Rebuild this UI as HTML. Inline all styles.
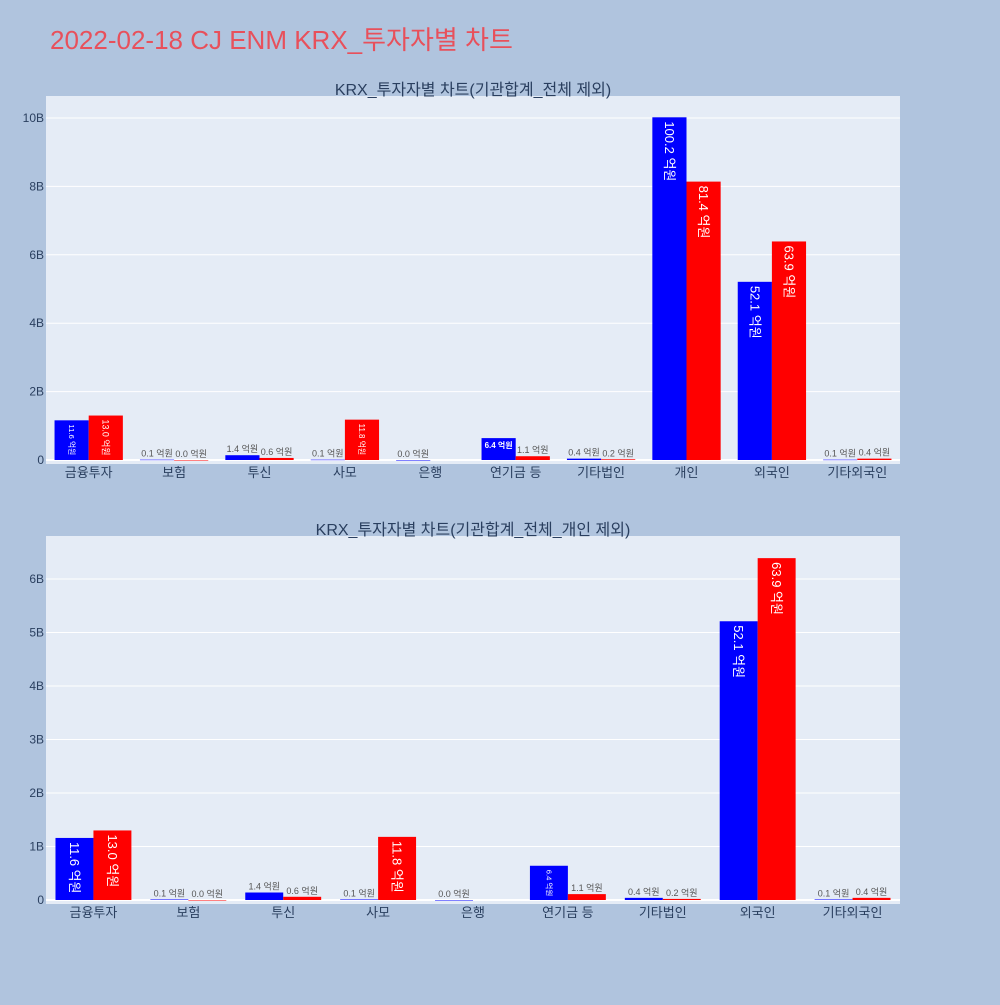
<!DOCTYPE html>
<html><head><meta charset="utf-8">
<style>
body{margin:0;width:1000px;height:1000px;background:#b0c4de;font-family:"Liberation Sans","Noto Sans CJK KR",sans-serif;overflow:hidden}
</style></head>
<body>
<svg id="svg" width="1000" height="1000" xmlns="http://www.w3.org/2000/svg">
<text x="50" y="49" font-size="26" fill="#e8505b" font-family="Liberation Sans, Noto Sans CJK KR, sans-serif">2022-02-18 CJ ENM KRX_투자자별 차트</text>
</svg>
<script>
const categories1=["금융투자","보험","투신","사모","은행","연기금 등","기타법인","개인","외국인","기타외국인"];
const blueVals1=[11.6,0.1,1.4,0.1,0.0,6.4,0.4,100.2,52.1,0.1];
const redVals1=[13.0,0.0,0.6,11.8,null,1.1,0.2,81.4,63.9,0.4];
const yTicks1=[0,2,4,6,8,10];
const categories2=["금융투자","보험","투신","사모","은행","연기금 등","기타법인","외국인","기타외국인"];
const blueVals2=[11.6,0.1,1.4,0.1,0.0,6.4,0.4,52.1,0.1];
const redVals2=[13.0,0.0,0.6,11.8,null,1.1,0.2,63.9,0.4];
const yTicks2=[0,1,2,3,4,5,6];

const NS="http://www.w3.org/2000/svg";
const svg=document.getElementById('svg');
const FF="Liberation Sans, Noto Sans CJK KR, sans-serif";
function mk(tag,attrs,parent){const e=document.createElementNS(NS,tag);for(const k in attrs)e.setAttribute(k,attrs[k]);(parent||svg).appendChild(e);return e;}

function chart(opt){
  const {cats,blue,red,ticks,x0,x1,top,bottom,zeroY,unitPx,title,titleY,prefix}=opt;
  const g=mk('g',{});
  
  
  const bg=mk('rect',{x:x0,y:top,width:x1-x0,height:bottom-top,fill:'#e5ecf6'},g);
  
  
  const yS=v=>zeroY-v/10*unitPx; // v in 억원, 10억=1B
  ticks.forEach(t=>{
    const y=zeroY-t*unitPx;
    const l=mk('line',{x1:x0,x2:x1,y1:y,y2:y,stroke:'#fff','stroke-width':t===0?2:1},g);
    
    
    const tx=mk('text',{x:x0-2,y:y+4,'font-size':12,fill:'#2a3f5f','text-anchor':'end','font-family':FF},g);
    tx.textContent=t===0?'0':t+'B';
    
    
  });
  const gw=(x1-x0)/cats.length, bw=gw*0.4;
  cats.forEach((c,i)=>{
    const cx=x0+gw*(i+0.5);
    const tl=mk('text',{x:cx,y:bottom+13,'font-size':13,fill:'#2a3f5f','text-anchor':'middle','font-family':FF},g);
    tl.textContent=c;
    
    
    [[blue[i],'#0000ff',cx-bw],[red[i],'#ff0000',cx]].forEach(([v,col,bx])=>{
      if(v===null)return;
      const y=yS(v),h=zeroY-y;
      const r=mk('rect',{x:bx,y:y,width:bw,height:Math.max(h,0.5),fill:col},g);
      
      
      const lbl=v.toFixed(1)+' 억원';
      const t=mk('text',{'font-family':FF},g);
      t.textContent=lbl;
      
      
      const fs=Math.min(13,(h-6)/(lbl.length*0.62));
      if(fs>=7){
        t.setAttribute('font-size',fs);t.setAttribute('fill','#fff');
        t.setAttribute('transform',`translate(${bx+bw/2-fs*0.35},${y+4}) rotate(90)`);
      }else if(h>20){
        t.setAttribute('font-size',8);t.setAttribute('fill','#fff');t.setAttribute('text-anchor','middle');
        t.setAttribute('x',bx+bw/2);t.setAttribute('y',y+10);t.setAttribute('font-weight','bold');
      }else{
        t.setAttribute('font-size',9);t.setAttribute('fill','#555');t.setAttribute('text-anchor','middle');
        t.setAttribute('x',bx+bw/2);t.setAttribute('y',y-3);
      }
    });
  });
  const tt=mk('text',{x:(x0+x1)/2,y:titleY,'font-size':16,fill:'#2a3f5f','text-anchor':'middle','font-family':FF},g);
  tt.textContent=title;
  
  
}
chart({cats:categories1,blue:blueVals1,red:redVals1,ticks:yTicks1,x0:46,x1:900,top:96,bottom:464,zeroY:460,unitPx:34.2,title:"KRX_투자자별 차트(기관합계_전체 제외)",titleY:95,prefix:'top'});
chart({cats:categories2,blue:blueVals2,red:redVals2,ticks:yTicks2,x0:46,x1:900,top:536,bottom:904,zeroY:900,unitPx:53.5,title:"KRX_투자자별 차트(기관합계_전체_개인 제외)",titleY:535,prefix:'bottom'});
</script>
</body></html>
